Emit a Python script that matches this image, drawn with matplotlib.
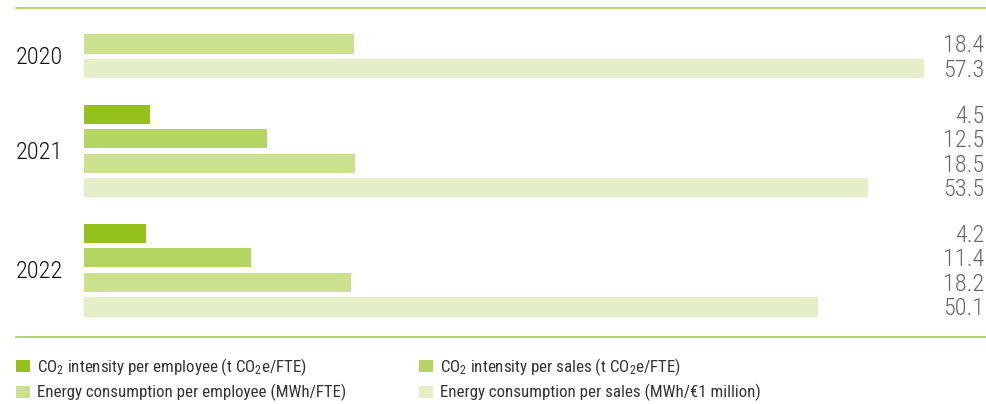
import matplotlib
matplotlib.use("Agg")
import matplotlib.pyplot as plt
import matplotlib.transforms as mtransforms
from matplotlib.patches import Patch

# data
years = ["2020", "2021", "2022"]
series_labels = [
    "CO$_2$ intensity per employee (t CO$_2$e/FTE)",
    "CO$_2$ intensity per sales (t CO$_2$e/FTE)",
    "Energy consumption per employee (MWh/FTE)",
    "Energy consumption per sales (MWh/€1 million)",
]
# None = not reported that year
co2_per_employee = [None, 4.5, 4.2]
co2_per_sales = [None, 12.5, 11.4]
energy_per_employee = [18.4, 18.5, 18.2]
energy_per_sales = [57.3, 53.5, 50.1]

series = [co2_per_employee, co2_per_sales, energy_per_employee, energy_per_sales]
colors = ["#95c11f", "#b5d562", "#cce18f", "#e4efc8"]

plt.rcParams["font.family"] = ["Roboto Condensed", "DejaVu Sans"]
plt.rcParams["mathtext.default"] = "regular"

W, H = 986, 404
fig = plt.figure(figsize=(W / 100, H / 100), dpi=100)

# layout in pixels
line_top, line_bot = 8, 337
x_left, x_right = 16, 986
bar_x0, bar_xmax = 84, 924
px_a, px_b = -5.06, 24.53          # pixel_y = a + b * slot
group_gap = 4.86
bar_h = 0.78

xmax = max(energy_per_sales)
scale = (bar_xmax - bar_x0) / xmax
xlim = (-(bar_x0 - x_left) / scale, xmax + (x_right - bar_xmax) / scale)

ax = fig.add_axes([x_left / W, 1 - line_bot / H,
                   (x_right - x_left) / W, (line_bot - line_top) / H])
ax.set_xlim(*xlim)
ax.set_ylim((line_bot - px_a) / px_b, (line_top - px_a) / px_b)

for s, (vals, col) in enumerate(zip(series, colors)):
    ys, ws = [], []
    for g, v in enumerate(vals):
        if v is None:
            continue
        ys.append(g * group_gap + s)
        ws.append(v)
    ax.barh(ys, ws, height=bar_h, color=col, left=0)

trans = mtransforms.blended_transform_factory(ax.transAxes, ax.transData)
for g, yr in enumerate(years):
    present = [g * group_gap + s for s, vals in enumerate(series) if vals[g] is not None]
    yc = (min(present) + max(present)) / 2
    ax.text(0, yc + 0.05, yr, transform=trans, ha="left", va="center",
            fontsize=17.5, color="#111111", fontweight=300)
    for s, vals in enumerate(series):
        if vals[g] is None:
            continue
        ax.text((984 - x_left) / (x_right - x_left), g * group_gap + s + 0.08,
                f"{vals[g]:.1f}", transform=trans, ha="right", va="center",
                fontsize=17.5, color="#666666", fontweight=300)

for side in ["left", "right"]:
    ax.spines[side].set_visible(False)
for side in ["top", "bottom"]:
    ax.spines[side].set_color("#a8cf4c")
    ax.spines[side].set_linewidth(1.2)
ax.set_xticks([])
ax.set_yticks([])

handles = [Patch(facecolor=c, edgecolor="none") for c in colors]
order = [0, 2, 1, 3]
fig.legend([handles[i] for i in order], [series_labels[i] for i in order],
           loc="upper left", bbox_to_anchor=(x_left / W, 1 - 356 / H),
           ncol=2, frameon=False, fontsize=12.2, borderpad=0, borderaxespad=0,
           handlelength=0.8, handleheight=0.7, handletextpad=0.45,
           labelspacing=0.38, columnspacing=4.3, labelcolor="#333333")

fig.savefig("out.png", dpi=100)
